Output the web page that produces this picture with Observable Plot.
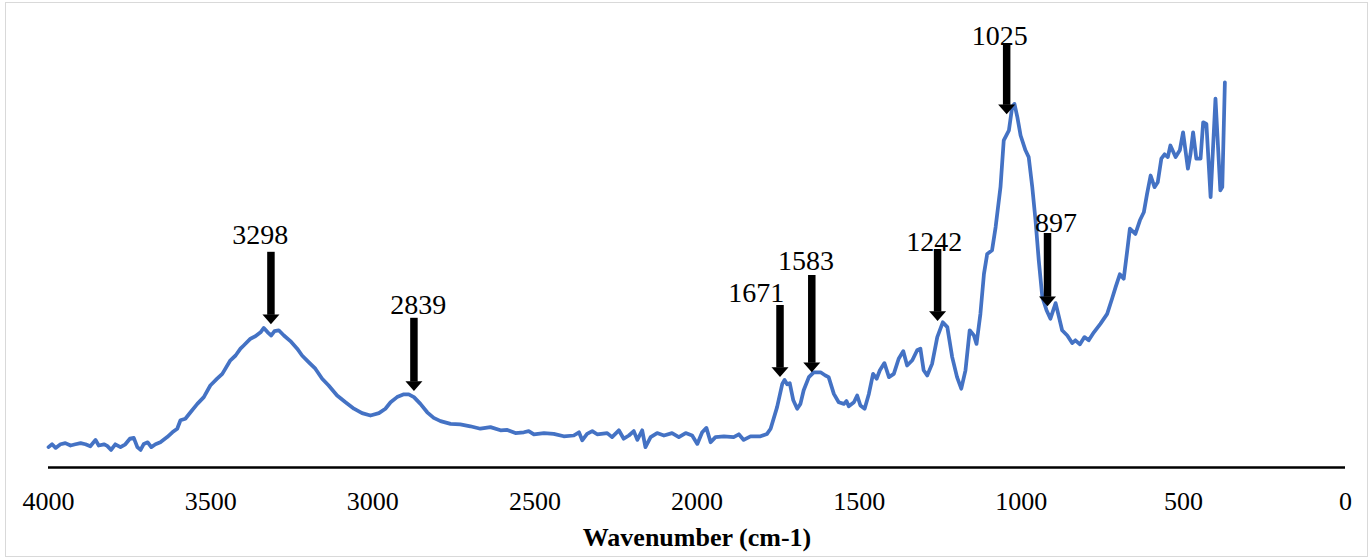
<!DOCTYPE html>
<html><head><meta charset="utf-8">
<script src="https://cdn.jsdelivr.net/npm/d3@7"></script>
<script src="https://cdn.jsdelivr.net/npm/@observablehq/plot@0.6"></script>
<style>
html,body{margin:0;padding:0;background:#fff;}
#wrap{position:relative;width:1371px;height:558px;}
#border{position:absolute;left:5px;top:2px;width:1361px;height:553px;border:1.5px solid #d9d9d9;pointer-events:none;}
</style></head><body>
<div id="wrap"><div id="chart"></div><div id="border"></div></div>
<script>
const wavenumber = [
4000,3989,3978,3963,3948,3932,3917,3901,3886,3871,3855,3845,3829,3819,3807,3794,3778,3763,3749,3737,
3726,3716,3706,3694,3683,3670,3655,3634,3618,3603,3593,3578,3562,3541,3521,3501,3480,3464,3439,3423,3408,
3398,3377,3362,3346,3336,3324,3313,3303,3290,3274,3254,3233,3218,3197,3177,3156,3136,3110,3084,3058,3033,
3007,2981,2961,2945,2925,2904,2889,2873,2853,2832,2812,2791,2760,2730,2699,2668,
2637,2606,2585,2560,2534,2519,2503,2472,2442,2411,2380,2364,2354,2339,2323,2308,2277,2262,2241,2226,2210,
2195,2184,2169,2159,2143,2123,2102,2077,2056,2035,2015,1999,1984,1971,1958,1943,1917,1887,1871,1856,1835,
1804,1784,1773,
1753,1737,1730,1722,1714,1703,1691,1681,1671,1655,1640,1619,1604,1594,1578,1563,1547,1539,1532,1516,1506,
1496,1483,1470,1457,1446,1436,1422,1408,1393,1378,1364,1352,1336,1321,1311,1301,1290,1275,1259,1242,1228,
1213,1198,1185,1172,1159,1146,1138,1126,
1115,1105,1090,1079,1064,1054,1038,1028,1021,1012,1002,987,977,966,956,946,935,922,910,894,886,874,858,
843,833,819,805,792,776,756,735,
720,709,696,684,673,665,648,634,622,612,601,589,579,568,558,548,540,524,511,501,486,478,470,460,447,439,
429,416,401,386,380,372
];
const absorbance = [
5.1,5.8,4.9,5.8,6.1,5.5,5.8,6.1,5.8,5.3,6.9,5.5,5.8,5.4,4.4,5.8,5.1,5.8,7.2,7.4,
5.1,4.4,5.9,6.3,5.1,5.8,6.3,7.6,8.8,9.7,11.8,12.2,13.8,15.9,17.6,20.5,22.2,23.4,26.8,28,29.7,
30.5,32.2,32.8,33.8,34.9,33.8,33,34.1,34.3,33,31.6,29.7,28,26.3,24.7,22.2,20.5,18,16.3,14.7,13.6,
13,13.6,14.7,16.3,17.6,18.3,18.3,17.6,15.9,13.8,12.4,11.6,10.9,10.8,10.3,9.7,
10.1,9.3,9.4,8.6,8.8,9.1,8.3,8.6,8.4,7.8,8,8.8,6.8,8.4,9.1,8.3,8.6,7.6,9.3,7.2,8,
9.1,6.9,9.3,5.1,7.6,8.6,8,8.6,7.6,8.6,8,5.9,8.8,9.9,6.3,7.6,7.8,7.6,8.3,6.9,7.8,
7.8,8.4,9.7,
15.1,20.9,21.9,20.8,21.1,16.8,14.7,15.9,19.3,22.6,23.8,23.8,23,22.6,18.4,16.3,15.9,16.6,15.3,16.3,18,
15.5,14.7,18.4,23.4,22.2,24.3,26.1,22.6,23.4,27.2,29.1,25.5,26.8,29.3,29.7,24.3,23,25.9,32.6,36.3,35.1,
27.6,22.6,19.7,24.3,34.3,33,30.9,38.4,
48.4,53.4,54.3,60.1,70.1,81.8,84.3,90.1,90.9,87.6,83,79.3,77.6,70.1,61.8,51.8,42.6,39.3,37.2,41.1,38.4,34.3,33,
31.1,31.8,30.8,32.6,31.8,33.8,35.9,38.4,
42.2,45.1,48.3,47.2,54.3,59.7,58.4,61.8,63.8,68.4,73,70.1,71.3,77.2,78.3,77.6,80.5,77.6,79.3,83.8,74.7,78.4,83.8,77.2,77.2,86.3,
85.9,67.6,92.2,69.3,70.1,96.3
];
const xTicks = [4000,3500,3000,2500,2000,1500,1000,500,0];
const peakLabels = ["3298","2839","1671","1583","1242","1025","897"];
const arrowX   = [3314,2873,1744,1646,1258,1045,919];
const arrowTop = [53.8,37.3,40.5,48,54.5,106,58.5];
const arrowTip = [35.8,19.1,22.6,23.8,36.6,88.3,40.3];
const labelX   = [3347,2860,1817,1664,1268,1066,893];
const labelY   = [55.8,38.3,41.3,49.5,54.1,105.6,59];
const xTitle = "Wavenumber (cm-1)";

const spectrum = wavenumber.map((w, i) => ({w, a: absorbance[i]}));
const peaks = peakLabels.map((t, i) => ({t, x: arrowX[i], top: arrowTop[i], tip: arrowTip[i], lx: labelX[i], ly: labelY[i]}));

// downward-pointing filled arrow head, tip at the anchor point
const arrowHead = {
  draw(ctx, size) {
    const r = Math.sqrt(size / Math.PI);
    ctx.moveTo(0, 0);
    ctx.lineTo(-r, -1.15 * r);
    ctx.lineTo(r, -1.15 * r);
    ctx.closePath();
  }
};

const serif = "'Liberation Serif', 'Times New Roman', serif";

const chart = Plot.plot({
  width: 1371,
  height: 558,
  marginLeft: 48,
  marginRight: 26,
  marginTop: 27,
  marginBottom: 91,
  style: {fontFamily: serif, fontSize: "26px", color: "#000", background: "transparent"},
  x: {domain: [4000, 0]},
  y: {domain: [0, 110], axis: null},
  marks: [
    Plot.ruleY([0], {stroke: "#000", strokeWidth: 2.5}),
    Plot.axisX({ticks: xTicks, tickSize: 0, tickPadding: 24.5, tickFormat: "d", fontSize: 26, fontFamily: serif, label: null}),
    Plot.line(spectrum, {x: "w", y: "a", stroke: "#4472C4", strokeWidth: 3.75, strokeLinejoin: "round", strokeLinecap: "round"}),
    Plot.ruleX(peaks, {x: "x", y1: "top", y2: "tip", stroke: "#000", strokeWidth: 7.5, insetBottom: 9}),
    Plot.dot(peaks, {x: "x", y: "tip", symbol: arrowHead, r: 8.5, fill: "#000", stroke: "none"}),
    Plot.text(peaks, {x: "lx", y: "ly", text: "t", lineAnchor: "bottom", fontSize: 28, fontFamily: serif, fill: "#000"}),
    Plot.text([xTitle], {frameAnchor: "bottom", lineAnchor: "bottom", dy: 78, fontSize: 26, fontWeight: "bold", fontFamily: serif, fill: "#000"})
  ]
});
document.getElementById("chart").appendChild(chart);
</script>
</body></html>
